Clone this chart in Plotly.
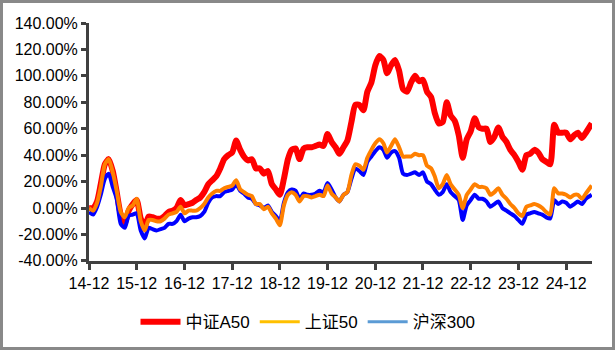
import plotly.graph_objects as go
import pandas as pd

dates = pd.date_range("2014-12-01", "2025-06-01", freq="MS").strftime("%Y-%m-%d").tolist()
dates[-1] = "2025-06-15"

a50 = [0, 0, 5, 18, 33, 37, 28, 12, -5, -11, -2, 3,
       6, -8, -14, -6.5, -7, -8, -8, -6, -3, -2, 0, 6,
       2, 3, 4, 6, 8, 12, 18, 21, 24, 30, 37, 40,
       42, 51, 44, 39, 36, 37, 30, 30, 26, 28, 18, 14,
       10, 22, 37, 44, 45, 37, 45, 46, 46, 47, 48, 47,
       56, 50, 46, 41, 46, 51, 65, 78, 78, 74, 88, 95,
       108, 115, 112, 102, 108, 112, 104, 90, 88, 95, 100, 96,
       97, 88, 84, 72, 64, 65, 80, 70, 66, 55, 38, 52,
       58, 68, 61, 60, 60, 50, 54, 61, 54, 50, 44, 40,
       35, 29, 40, 41, 44, 42, 37, 35, 33, 63, 57, 57,
       57, 52, 55, 57, 53, 57, 64]
sz50 = [0, -2, 4, 16, 33, 37, 27, 13, -3, -7, 0, 2,
        7, -10, -17, -9, -9, -10, -10, -8, -5, -4, -3, 1,
        -4, -2, -2, -2, 0, 3, 8, 11, 13, 13, 15, 16,
        17, 21, 14, 12, 10, 9, 3, 3, -1, 1, -4, -8,
        -13, 2, 10, 12, 10, 5, 9, 9, 8, 9, 10, 9,
        17, 11, 8, 5, 10, 12, 25, 33, 32, 29, 38, 44,
        49, 52, 49, 42, 47, 52, 46, 39, 39, 39, 41, 40,
        40, 32, 30, 24, 15, 18, 25, 18, 14, 10, 0, 10,
        14, 18, 16, 16, 15, 10, 12, 15, 10, 7, 3, 0,
        -4, -6, 1, 2, 3, 2, 0, -3, -5, 15, 11, 11,
        10, 8, 10, 10, 7, 11, 17]
hs300 = [-3, -5, 1, 10, 22, 26, 16, 7, -12, -15, -6, -5,
         -4, -17, -23, -15, -16, -17, -16, -15, -12, -12, -10, -5,
         -10, -8, -7, -7, -6, -3, 4, 8, 9, 9, 12, 13,
         14, 18, 13, 11, 8, 7, 3, 2, 0, 2, -3, -6,
         -10, 4, 12, 14, 13, 7, 11, 10, 10, 11, 13, 12,
         19, 14, 8, 5, 10, 12, 22, 30, 28, 25, 35, 39,
         43, 46, 44, 38, 42, 43, 38, 26, 25, 26, 27, 25,
         27, 20, 18, 14, 10, 12, 18, 12, 9, 6, -9, 2,
         6, 10, 7, 7, 5, 1, 3, 5, 0, -2, -4, -6,
         -9, -12, -5, -4, -3, -4, -5, -7, -8, 6, 3, 5,
         4, 1, 3, 5, 3, 7, 10]

names = ["中证A50", "上证50", "沪深300"]
line_colors = ["#FF0000", "#FF8000", "#0000FF"]
legend_colors = ["#FF0000", "#FFC000", "#5B9BD5"]
ticks_y = [-40, -20, 0, 20, 40, 60, 80, 100, 120, 140]

W, H = 616, 352
L, R, T, B = 89, 24, 23, 90
pw, ph = W - L - R, H - T - B

fig = go.Figure()
fig.add_trace(go.Scatter(x=dates, y=a50, mode="lines",
                         line=dict(color=line_colors[0], width=6, shape="spline", smoothing=0.6),
                         showlegend=False, hoverinfo="skip"))
fig.add_trace(go.Scatter(x=dates, y=hs300, mode="lines",
                         line=dict(color=line_colors[2], width=4, shape="spline", smoothing=0.6),
                         showlegend=False, hoverinfo="skip"))
fig.add_trace(go.Scatter(x=dates, y=sz50, mode="lines",
                         line=dict(color=line_colors[1], width=4, shape="spline", smoothing=0.6),
                         showlegend=False, hoverinfo="skip"))
for n, c, w in zip(names, legend_colors, [6, 3, 3]):
    fig.add_trace(go.Scatter(x=[None], y=[None], mode="lines", name=n, line=dict(color=c, width=w)))

font = "Liberation Sans, Arial, Noto Sans CJK SC, sans-serif"
fig.update_layout(
    width=W, height=H,
    margin=dict(l=L, r=R, t=T, b=B),
    paper_bgcolor="white", plot_bgcolor="white",
    font=dict(family=font, size=16, color="#000000"),
    legend=dict(orientation="h", xref="container", yref="container",
                x=0.5, xanchor="center", y=0.085, yanchor="middle",
                font=dict(size=17), itemwidth=40, bgcolor="rgba(0,0,0,0)"),
    xaxis=dict(type="date", range=["2014-12-01", "2025-06-17"],
               tick0="2014-12-01", dtick="M12", tickformat="%y-%m",
               showgrid=False, zeroline=False, showline=True, linecolor="#404040", linewidth=3,
               ticks="outside", ticklen=6, tickwidth=3, tickcolor="#404040",
               tickfont=dict(size=16)),
    yaxis=dict(range=[-40, 140], tickvals=ticks_y,
               ticktext=[f"{v:.2f}%" for v in ticks_y],
               showgrid=False, zeroline=False, showline=True, linecolor="#404040", linewidth=3,
               ticks="outside", ticklen=5, tickwidth=3, tickcolor="#404040",
               tickfont=dict(size=16)),
)

def px2x(p):
    return (p - L) / pw
def py2y(p):
    return (H - B - p) / ph
fig.add_shape(type="rect", xref="paper", yref="paper",
              x0=px2x(1.5), x1=px2x(613.5), y0=py2y(350), y1=py2y(1.5),
              line=dict(color="#898989", width=3), fillcolor="rgba(0,0,0,0)", layer="below")

fig.write_html("out.html")
